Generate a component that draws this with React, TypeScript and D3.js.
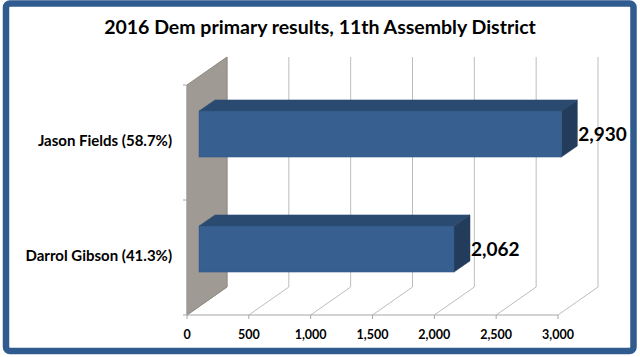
import React from "react";
import * as d3 from "d3";

const categories = ["Jason Fields (58.7%)", "Darrol Gibson (41.3%)"];
const votes = [2930, 2062];
const voteLabels = ["2,930", "2,062"];
const ticks = [0, 500, 1000, 1500, 2000, 2500, 3000];
const title = "2016 Dem primary results, 11th Assembly District";

const W = 640;
const H = 357;
const DX = 40;
const DY = -28;
const FONT = "Lato, 'Open Sans', 'Liberation Sans', sans-serif";

export default function App() {
  const x = d3.scaleLinear().domain([0, 3000]).range([187, 558]);
  const y = d3.scaleBand<string>().domain(categories).range([85, 315]);
  const bw = y.bandwidth();
  const P = (vx: number, vy: number, d: number): [number, number] => [vx + d * DX, vy + d * DY];
  const pts = (a: [number, number][]) => a.map((p) => p.join(",")).join(" ");
  const yTop = 85, yBot = 315;
  const d0 = 0.3, d1 = 0.7;
  const fmt = d3.format(",");

  return (
    <svg width={W} height={H} style={{ display: "block", position: "absolute", left: 0, top: 0 }}>
      <rect x={0} y={0} width={W} height={H} fill="#ffffff" />
      <rect x={6} y={3.5} width={627.5} height={347.5} rx={4} fill="#ffffff" stroke="#2F5B8E" strokeWidth={6.5} />
      <text x={320} y={33.5} textAnchor="middle" fontFamily={FONT} fontWeight="bold" fontSize={19.5} fill="#000">{title}</text>

      {/* back wall gridlines */}
      {ticks.map((t) => {
        const a = P(x(t), yTop, 1), b = P(x(t), yBot, 1), c = P(x(t), yBot, 0);
        return (
          <g key={"g" + t}>
            <line x1={a[0]} y1={a[1]} x2={b[0]} y2={b[1]} stroke="#BDBDBD" strokeWidth={1} />
            <polyline points={pts([b, c])} fill="none" stroke="#BDBDBD" strokeWidth={1} />
            <line x1={x(t)} y1={yBot} x2={x(t)} y2={yBot + 4} stroke="#A6A6A6" strokeWidth={1} />
            <text x={x(t)} y={338.5} textAnchor="middle" fontFamily={FONT} fontWeight="bold" fontSize={12.5} fill="#000">{fmt(t)}</text>
          </g>
        );
      })}
      {/* side wall */}
      <polygon
        points={pts([P(x(0), yTop, 0), P(x(0), yTop, 1), P(x(0), yBot, 1), P(x(0), yBot, 0)])}
        fill="#9F9B94"
        stroke="#8C8880"
        strokeWidth={1}
      />
      {/* axes */}
      <line x1={x(0)} y1={yBot} x2={x(3000)} y2={yBot} stroke="#A6A6A6" strokeWidth={1} />
      <line x1={x(0)} y1={yTop} x2={x(0)} y2={yBot} stroke="#A6A6A6" strokeWidth={1} />
      {[yTop, yTop + bw, yBot].map((v, i) => (
        <line key={"yt" + i} x1={x(0) - 4} y1={v} x2={x(0)} y2={v} stroke="#A6A6A6" strokeWidth={1} />
      ))}

      {/* bars */}
      {categories.map((c, i) => {
        const by0 = (y(c) as number) + bw * 0.3;
        const by1 = (y(c) as number) + bw * 0.7;
        const x0 = x(0), x1 = x(votes[i]);
        const f = [P(x0, by0, d0), P(x1, by0, d0), P(x1, by1, d0), P(x0, by1, d0)];
        const top = [P(x0, by0, d0), P(x0, by0, d1), P(x1, by0, d1), P(x1, by0, d0)];
        const side = [P(x1, by0, d0), P(x1, by0, d1), P(x1, by1, d1), P(x1, by1, d0)];
        const lx = P(x1, by0, d1)[0] + 1;
        const ly = (f[0][1] + f[3][1]) / 2 + 2;
        return (
          <g key={c}>
            <polygon points={pts(top)} fill="#2B4A70" stroke="#2B4A70" strokeWidth={0.5} />
            <polygon points={pts(side)} fill="#243C5C" stroke="#243C5C" strokeWidth={0.5} />
            <polygon points={pts(f)} fill="#376091" stroke="#2E5585" strokeWidth={0.5} />
            <text x={lx} y={ly} dominantBaseline="middle" fontFamily={FONT} fontWeight="bold" fontSize={19} fill="#000">{voteLabels[i]}</text>
            <text x={172} y={(y(c) as number) + bw / 2} textAnchor="end" dominantBaseline="middle" fontFamily={FONT} fontWeight="bold" fontSize={15} fill="#000">{c}</text>
          </g>
        );
      })}
    </svg>
  );
}
